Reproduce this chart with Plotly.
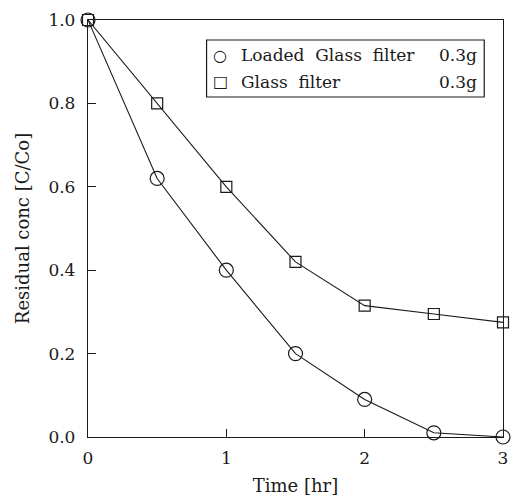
import plotly.graph_objects as go

# Sampling times [hr]
time_hr = [0, 0.5, 1, 1.5, 2, 2.5, 3]
# Residual concentration C/Co for each filter
loaded_glass = [1.0, 0.62, 0.40, 0.20, 0.09, 0.01, 0.0]
glass_filter = [1.0, 0.80, 0.60, 0.42, 0.315, 0.295, 0.275]

series_names = ["Loaded Glass filter", "Glass filter"]
series_mass = "0.3g"
x_ticks = [0, 1, 2, 3]
y_ticks = [0.0, 0.2, 0.4, 0.6, 0.8, 1.0]

FONT = "DejaVu Serif"
INK = "#1a1a1a"

fig = go.Figure()

fig.add_trace(go.Scatter(
    x=time_hr, y=loaded_glass, mode="lines+markers", name=series_names[0],
    line=dict(color=INK, width=1.1),
    marker=dict(symbol="circle-open", size=14, color=INK, line=dict(width=1.2)),
    cliponaxis=False,
))
fig.add_trace(go.Scatter(
    x=time_hr, y=glass_filter, mode="lines+markers", name=series_names[1],
    line=dict(color=INK, width=1.1),
    marker=dict(symbol="square-open", size=11, color=INK, line=dict(width=1.2)),
    cliponaxis=False,
))

W, H = 515, 500
L, R, T, B = 88, 7, 20, 63
pw, ph = W - L - R, H - T - B


def px_x(p):
    return (p - L) / pw


def px_y(p):
    return (H - B - p) / ph


# Boxed legend drawn in paper coordinates
fig.add_shape(type="rect", xref="paper", yref="paper",
              x0=px_x(208), x1=px_x(489), y0=px_y(97), y1=px_y(40),
              line=dict(color=INK, width=1.2), fillcolor="white")
rows = [(55, "○"), (82, "□")]
for (ypx, sym), name in zip(rows, series_names):
    fig.add_annotation(x=px_x(222), y=px_y(ypx), xref="paper", yref="paper",
                       text=sym, showarrow=False, xanchor="center", yanchor="middle",
                       font=dict(family=FONT, size=16, color=INK))
    fig.add_annotation(x=px_x(241), y=px_y(ypx), xref="paper", yref="paper",
                       text=name.replace(" ", "\u00a0\u00a0"), showarrow=False,
                       xanchor="left", yanchor="middle",
                       font=dict(family=FONT, size=17, color=INK))
    fig.add_annotation(x=px_x(484), y=px_y(ypx), xref="paper", yref="paper",
                       text=series_mass, showarrow=False, xanchor="right", yanchor="middle",
                       font=dict(family=FONT, size=17, color=INK))

axis_common = dict(
    showgrid=False, zeroline=False, showline=True, mirror=True,
    linecolor=INK, linewidth=1.3, ticks="inside", ticklen=8,
    tickcolor=INK, tickwidth=1.2,
    tickfont=dict(family=FONT, size=17, color=INK),
)

fig.update_xaxes(range=[0, 3], tickvals=x_ticks, ticktext=[str(v) for v in x_ticks],
                 title=dict(text="Time [hr]", font=dict(family=FONT, size=18, color=INK), standoff=12),
                 ticklabelstandoff=5, **axis_common)
fig.update_yaxes(range=[0, 1], tickvals=y_ticks, ticktext=[f"{v:.1f}" for v in y_ticks],
                 title=dict(text="Residual conc [C/Co]", font=dict(family=FONT, size=18, color=INK), standoff=14),
                 ticklabelstandoff=8, **axis_common)

fig.update_layout(
    width=W, height=H, showlegend=False,
    margin=dict(l=L, r=R, t=T, b=B),
    paper_bgcolor="white", plot_bgcolor="white",
    font=dict(family=FONT, color=INK),
)

fig.write_html("out.html")
